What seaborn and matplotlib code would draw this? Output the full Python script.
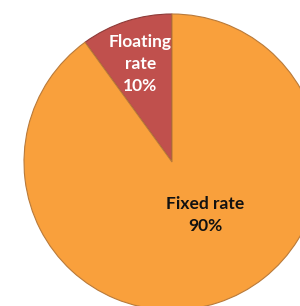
import matplotlib
matplotlib.use("Agg")
import matplotlib.pyplot as plt
import seaborn as sns

labels = ["Floating\nrate", "Fixed rate"]
shares = [10, 90]
slice_colors = ["#C0504D", "#F9A03C"]
text_colors = ["white", "#111111"]

sns.set_theme(style="white")
plt.rcParams["font.family"] = ["Lato", "DejaVu Sans"]

fig = plt.figure(figsize=(3.0, 3.06), dpi=100)
ax = fig.add_axes([24 / 300, -4 / 306, 296 / 300, 296 / 306])

wedges, _ = ax.pie(shares, colors=slice_colors, startangle=90, counterclock=True,
                   wedgeprops=dict(edgecolor="#B97A3A", linewidth=0.8))
wedges[0].set_edgecolor("#8E3B38")

# label positions (fraction of radius)
label_pos = [(-0.215, 0.66), (0.225, -0.36)]
for lab, val, (x, y), c in zip(labels, shares, label_pos, text_colors):
    ax.text(x, y, f"{lab}\n{val}%", ha="center", va="center", color=c,
            fontsize=12.5, fontweight="bold", linespacing=1.45)

ax.set_xlim(-1, 1)
ax.set_ylim(-1, 1)
ax.set_aspect("equal")
ax.axis("off")
fig.savefig("out.png", dpi=100)
